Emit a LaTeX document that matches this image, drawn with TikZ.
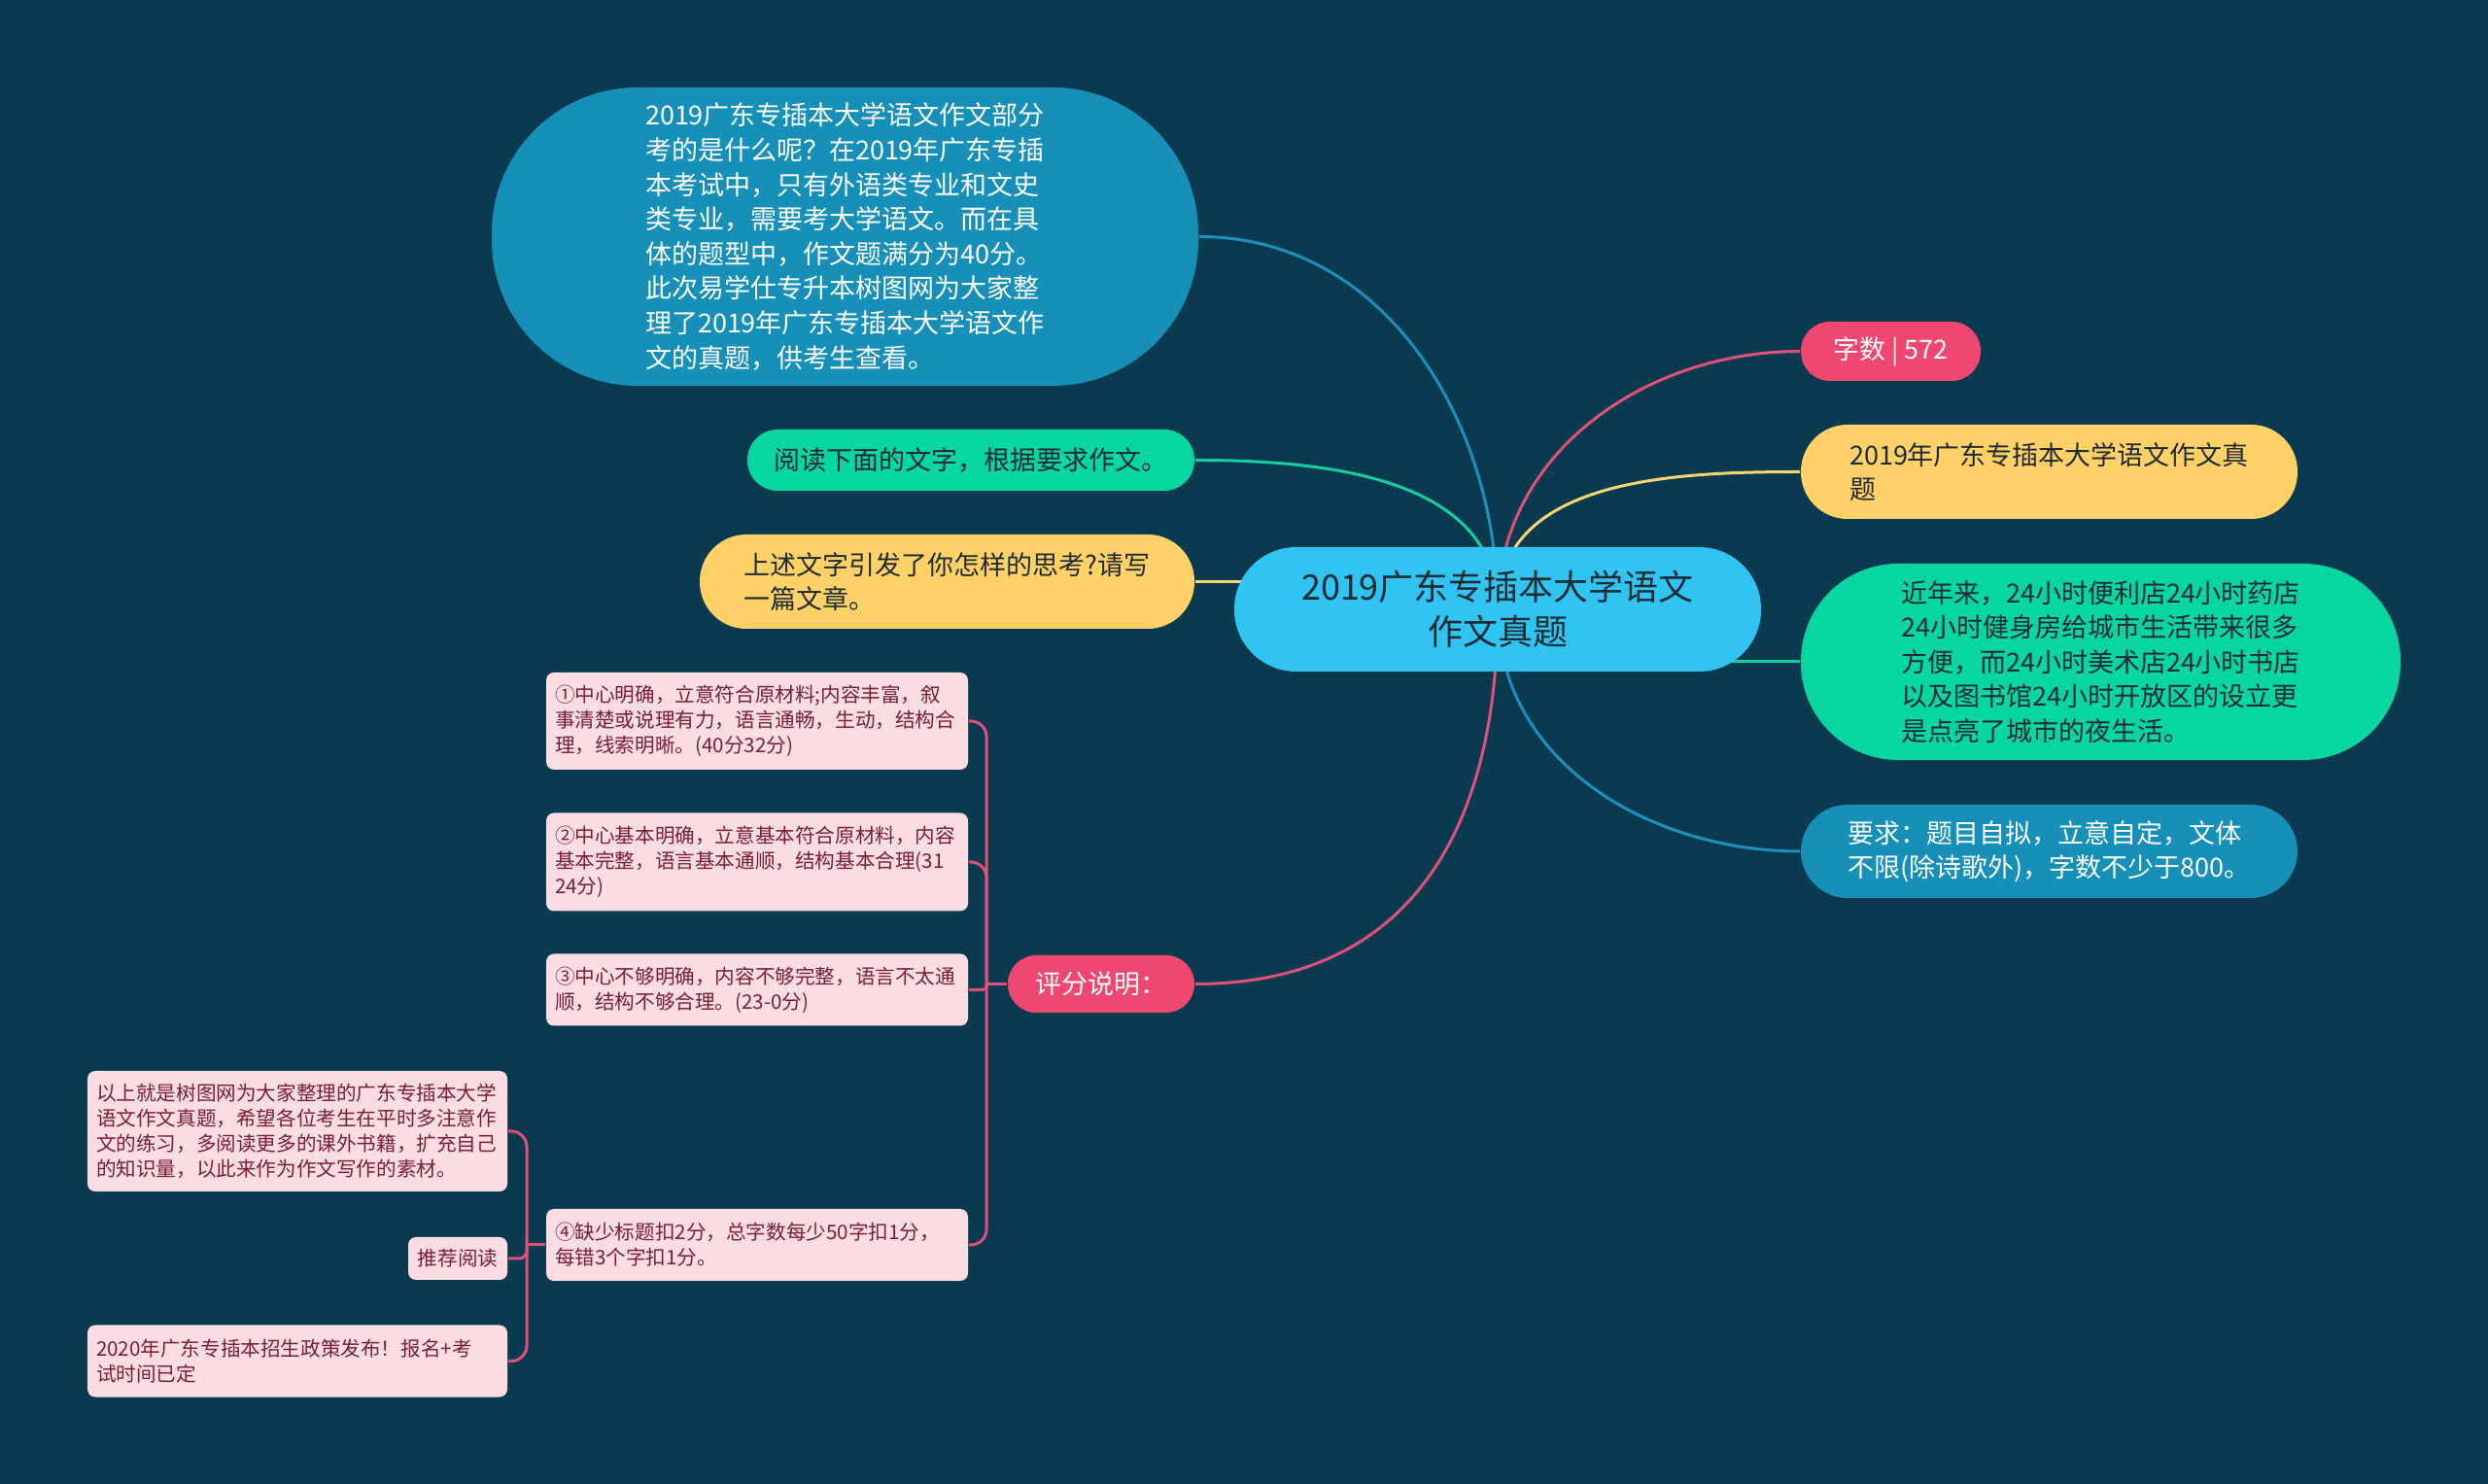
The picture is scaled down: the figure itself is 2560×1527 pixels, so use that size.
\documentclass[tikz,border=0pt]{standalone}
\usepackage{fontspec}
\setmainfont{Noto Sans CJK SC}
\usepackage{xcolor}
\usepackage{tikz}
\definecolor{bgc}{HTML}{093A4F}
\definecolor{cyanc}{HTML}{30C4F2}
\definecolor{bluec}{HTML}{1690B9}
\definecolor{greenc}{HTML}{07D6A0}
\definecolor{yelc}{HTML}{FFD166}
\definecolor{redc}{HTML}{EF476F}
\definecolor{pinkc}{HTML}{FBDDE3}
\definecolor{darktxt}{HTML}{1E2B33}
\definecolor{maroon}{HTML}{7A1E36}
\definecolor{blueln}{HTML}{1C8FBE}
\definecolor{greenln}{HTML}{17CC9E}
\definecolor{yelln}{HTML}{F5D572}
\definecolor{redln}{HTML}{E0517A}
\pgfdeclarelayer{back}
\pgfdeclarelayer{edges}
\pgfsetlayers{back,edges,main}
\begin{document}
\begin{tikzpicture}[x=0.25pt,y=-0.25pt,
pill/.style={rectangle,rounded corners=#1,inner sep=0pt,align=left},
lvl/.style={font=\fontsize{6.75pt}{8.9pt}\selectfont},
sbox/.style={rectangle,rounded corners=2pt,fill=pinkc,text=maroon,inner ysep=0pt,inner xsep=2.25pt,font=\fontsize{5.15pt}{6.5pt}\selectfont},
wbox/.style={sbox,text width=104pt,align=left},
edge/.style={line width=0.75pt}]
\begin{pgfonlayer}{back}
\fill[bgc](0,0)rectangle(2560,1527);
\end{pgfonlayer}
\node[pill=15.9pt,align=center,fill=cyanc,text=darktxt,minimum width=135.5pt,minimum height=32pt,font=\fontsize{9pt}{11.5pt}\selectfont](root)at(1541,627){2019广东专插本大学语文\\作文真题};
\node[pill=37.5pt,lvl,fill=bluec,text=white,minimum width=181.75pt,minimum height=76.75pt](intro)at(869.5,243.5){2019广东专插本大学语文作文部分\\考的是什么呢？在2019年广东专插\\本考试中，只有外语类专业和文史\\类专业，需要考大学语文。而在具\\体的题型中，作文题满分为40分。\\此次易学仕专升本树图网为大家整\\理了2019年广东专插本大学语文作\\文的真题，供考生查看。};
\node[pill=7.8pt,lvl,fill=greenc,text=darktxt,minimum width=115pt,minimum height=15.75pt](read)at(999,473.5){阅读下面的文字，根据要求作文。};
\node[pill=12pt,lvl,fill=yelc,text=darktxt,minimum width=127.25pt,minimum height=24.25pt](think)at(974.5,598.5){上述文字引发了你怎样的思考?请写\\一篇文章。};
\node[pill=7.5pt,lvl,fill=redc,text=white,minimum width=46.25pt,minimum height=15.25pt](count)at(1945.5,361.5){字数 | 572};
\node[pill=12pt,lvl,fill=yelc,text=darktxt,minimum width=127.75pt,minimum height=24.25pt](title)at(2108.5,485.5){2019年广东专插本大学语文作文真\\题};
\node[pill=25pt,lvl,fill=greenc,text=darktxt,minimum width=154.25pt,minimum height=50.5pt](scene)at(2161.5,681){近年来，24小时便利店24小时药店\\24小时健身房给城市生活带来很多\\方便，而24小时美术店24小时书店\\以及图书馆24小时开放区的设立更\\是点亮了城市的夜生活。};
\node[pill=12pt,lvl,fill=bluec,text=white,minimum width=127.75pt,minimum height=24pt](req)at(2108.5,876){要求：题目自拟，立意自定，文体\\不限(除诗歌外)，字数不少于800。};
\node[pill=7.3pt,lvl,fill=redc,text=white,minimum width=48pt,minimum height=14.75pt](score)at(1133,1012.5){评分说明：};
\node[wbox,minimum height=25pt](s1)at(779,742){①中心明确，立意符合原材料;内容丰富，叙\\事清楚或说理有力，语言通畅，生动，结构合\\理，线索明晰。(40分32分)};
\node[wbox,minimum height=25.25pt](s2)at(779,887){②中心基本明确，立意基本符合原材料，内容\\基本完整，语言基本通顺，结构基本合理(31\\24分)};
\node[wbox,minimum height=18.5pt](s3)at(779,1018.5){③中心不够明确，内容不够完整，语言不太通\\顺，结构不够合理。(23-0分)};
\node[wbox,minimum height=18.5pt](s4)at(779,1281){④缺少标题扣2分，总字数每少50字扣1分，\\每错3个字扣1分。};
\node[wbox,text width=103.5pt,minimum height=31pt](recA)at(306,1164){以上就是树图网为大家整理的广东专插本大学\\语文作文真题，希望各位考生在平时多注意作\\文的练习，多阅读更多的课外书籍，扩充自己\\的知识量，以此来作为作文写作的素材。};
\node[sbox,minimum width=25.5pt,minimum height=11pt](recB)at(471,1295){推荐阅读};
\node[wbox,text width=103.5pt,minimum height=18.5pt](recC)at(306,1400.5){2020年广东专插本招生政策发布！报名+考\\试时间已定};
\coordinate(sj)at(1015,1012.5);
\coordinate(lj)at(542,1281);
\begin{pgfonlayer}{edges}
\draw[edge,blueln](root.center)to[out=90,in=0](intro.east);
\draw[edge,greenln](root.center)to[out=90,in=0](read.east);
\draw[edge,yelln](think.east)--(think.east-|root.center);
\draw[edge,redln](root.center)to[out=90,in=180](count.west);
\draw[edge,yelln](root.center)to[out=90,in=180](title.west);
\draw[edge,greenln](scene.west)--(scene.west-|root.center);
\draw[edge,blueln](root.center)to[out=-90,in=180](req.west);
\draw[edge,redln](root.center)to[out=-90,in=0,looseness=1.15](score.east);
\draw[edge,redln](score.west)--(sj);
\draw[edge,redln,rounded corners=4pt](sj)|-(s1.east);
\draw[edge,redln,rounded corners=4pt](sj)|-(s2.east);
\draw[edge,redln,rounded corners=1pt](sj)|-(s3.east);
\draw[edge,redln,rounded corners=4pt](sj)|-(s4.east);
\draw[edge,redln](s4.west)--(lj);
\draw[edge,redln,rounded corners=4pt](lj)|-(recA.east);
\draw[edge,redln,rounded corners=2pt](lj)|-(recB.east);
\draw[edge,redln,rounded corners=4pt](lj)|-(recC.east);
\end{pgfonlayer}
\end{tikzpicture}
\end{document}
